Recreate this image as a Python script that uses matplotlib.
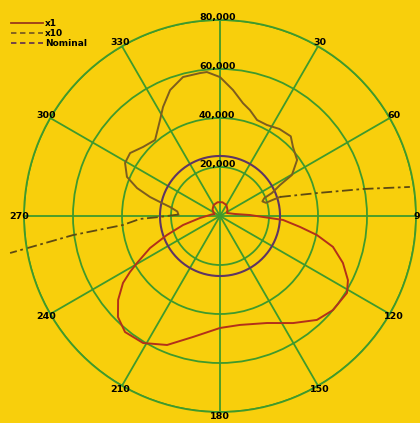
import numpy as np
import matplotlib
matplotlib.use("Agg")
import matplotlib.pyplot as plt
from matplotlib.lines import Line2D

# ---- data (compass degrees, clockwise from north) ----
x1_deg = [-70, -50, -30, -10, 10, 30, 50, 66.8, 82.4, 88.1, 93.6, 97.8, 101.1, 105.3,
          110.9, 116.6, 121.2, 129.8, 137, 145.7, 156.3, 169.6, 180, 192.6, 202.3,
          211.2, 219.3, 225.3, 230.5, 235.4, 238.1, 240.5, 245.4, 250.3, 256.3,
          264.3, 280, 290]
x1_r = [2500, 4000, 5200, 5700, 5700, 5200, 4000, 3100, 6200, 12200, 25800, 33000,
        40300, 47800, 53700, 58400, 60600, 60000, 58000, 52900, 47700, 45200, 45700,
        50600, 56900, 60600, 61200, 58600, 53900, 48100, 43300, 38900, 31400, 23000,
        15500, 8200, 3500, 2500]

x10_lobe_deg = [72.4, 73, 74, 71, 68, 66.1, 62.7, 60.3, 54, 46.6, 41.6, 34.3, 27.3,
                21.1, 15.8, 11.5, 5.9, 0, -5.2, -8, -14.9, -21.6, -27.6, -32, -40.5,
                -48.1, -55, -60.8, -67.2, -71.4, -74.8, -77.4, -79.8, -84, -88]
x10_lobe_r = [25700, 22500, 19500, 18300, 19500, 23200, 27600, 33800, 38900, 41000,
              43500, 43000, 41800, 42000, 44900, 47000, 51700, 56700, 59000, 58900,
              58700, 55300, 50200, 46200, 40800, 42200, 44800, 44400, 41200, 35700,
              29600, 24300, 20700, 17500, 17000]
x10_right_deg = [72.4, 76.7, 79.3, 81.3]
x10_right_r = [25700, 40700, 59400, 78400]
x10_left_deg = [-88, -91, -92.1, -95.3, -97.4, -100]
x10_left_r = [17000, 25000, 32700, 39800, 60500, 87000]

nominal_r = 24500

r_max = 80000
r_ticks = [20000, 40000, 60000, 80000]
r_labels = ["20,000", "40,000", "60,000", "80,000"]
theta_ticks = list(range(0, 360, 30))
theta_labels = ["", "30", "60", "90", "120", "150", "180", "210", "240", "270", "300", "330"]

# ---- style ----
bg = "#f8cf0c"
grid_c = "#3f9a2c"
red_c = "#b3301a"
lobe_c = "#7d5d1e"
arm_c = "#5e4a12"
nom_c = "#5e3563"

fig = plt.figure(figsize=(4.2, 4.23), dpi=100, facecolor=bg)
ax = fig.add_axes([24/420, 11/423, 392/420, 392/423], projection="polar")
ax.set_facecolor(bg)
ax.set_theta_zero_location("N")
ax.set_theta_direction(-1)
ax.set_ylim(0, r_max)
ax.set_yticks(r_ticks)
ax.set_yticklabels([])
ax.set_thetagrids(theta_ticks, labels=[""] * len(theta_ticks))
ax.tick_params(axis="x", length=0)
ax.grid(True, color=grid_c, linewidth=1.3, linestyle="-")
ax.spines["polar"].set_color(grid_c)
ax.spines["polar"].set_linewidth(1.3)

th = np.deg2rad
ax.plot(np.linspace(0, 2*np.pi, 361), np.full(361, nominal_r), color=nom_c, lw=1.5)
ax.plot(th(x10_lobe_deg), x10_lobe_r, color=lobe_c, lw=1.4)
ax.plot(th(x10_right_deg), x10_right_r, color=arm_c, lw=1.3, linestyle=(0, (6, 2, 1.5, 2)))
ax.plot(th(x10_left_deg), x10_left_r, color=arm_c, lw=1.3, linestyle=(0, (6, 2, 1.5, 2)),
        clip_on=False)
ax.plot(th(x1_deg), x1_r, color=red_c, lw=1.4)

# angle labels centred just outside the outer ring
off = 3.2
for deg, lab in zip(theta_ticks, theta_labels):
    if not lab:
        continue
    a = np.deg2rad(deg)
    ax.annotate(lab, (a, r_max), xytext=(off*np.sin(a), off*np.cos(a)),
                textcoords="offset points", ha="center", va="center",
                fontsize=6.8, fontweight="bold", annotation_clip=False)

for r, lab in zip(r_ticks, r_labels):
    ax.annotate(lab, (0, r), xytext=(-2, 1.5), textcoords="offset points",
                ha="center", va="center", fontsize=6.8, fontweight="bold",
                annotation_clip=False)

handles = [Line2D([], [], color="#9a3a1a", lw=1.3, linestyle="-"),
           Line2D([], [], color=lobe_c, lw=1.3, linestyle=(0, (3, 2))),
           Line2D([], [], color="#6a3a4a", lw=1.3, linestyle=(0, (3, 2)))]
fig.legend(handles, ["x1", "x10", "Nominal"], loc="upper left",
           bbox_to_anchor=(0.01, 0.97), frameon=False,
           prop={"weight": "bold", "size": 6.5}, handlelength=3.6,
           handletextpad=0.2, labelspacing=0.1, borderpad=0.2)

fig.savefig("out.png", dpi=100, facecolor=bg)
